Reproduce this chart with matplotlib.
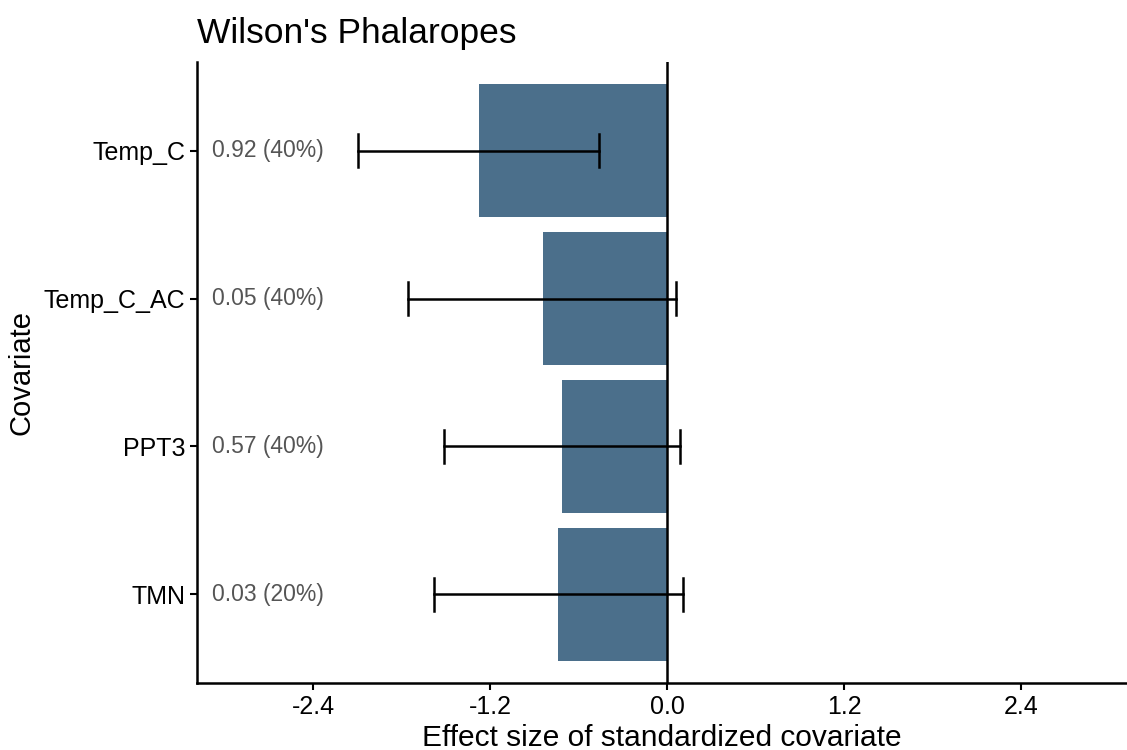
import matplotlib
matplotlib.use("Agg")
import matplotlib.pyplot as plt

plt.rcParams["font.family"] = ["Liberation Sans", "DejaVu Sans"]

# covariates, bottom to top
covariates = ["TMN", "PPT3", "Temp_C_AC", "Temp_C"]
effect = [-0.739, -0.714, -0.841, -1.275]
ci_low = [-1.580, -1.517, -1.757, -2.095]
ci_high = [0.108, 0.084, 0.063, -0.461]
labels = ["0.03 (20%)", "0.57 (40%)", "0.05 (40%)", "0.92 (40%)"]
xticks = [-2.4, -1.2, 0.0, 1.2, 2.4]

fig = plt.figure(figsize=(11.27, 7.5), dpi=100)
ax = fig.add_axes([197 / 1127, 67 / 750, 930 / 1127, 621 / 750])

ypos = list(range(1, len(covariates) + 1))
ax.barh(ypos, effect, height=0.9, color="#4B6F8B", zorder=1)
ax.axvline(0, color="black", lw=1.8, zorder=2)

# error bars with end caps
for y, lo, hi in zip(ypos, ci_low, ci_high):
    ax.plot([lo, hi], [y, y], color="black", lw=1.8, zorder=3)
    for x in (lo, hi):
        ax.plot([x, x], [y - 0.11, y + 0.11], color="black", lw=1.8, zorder=3)

for y, t in zip(ypos, labels):
    ax.text(-3.09, y, t, ha="left", va="center", fontsize=16.5, color="#555555")

ax.set_xlim(-3.19, 3.12)
ax.set_ylim(0.4, 4.6)
ax.set_xticks(xticks)
ax.set_xticklabels([f"{v:.1f}" for v in xticks])
ax.set_yticks(ypos)
ax.set_yticklabels(covariates)

for side in ("top", "right"):
    ax.spines[side].set_visible(False)
for side in ("left", "bottom"):
    ax.spines[side].set_linewidth(1.8)

ax.tick_params(axis="both", labelsize=18, length=5, width=1.5, colors="black")
ax.tick_params(axis="x", pad=4)
ax.set_xlabel("Effect size of standardized covariate", fontsize=21.5, labelpad=3)
ax.set_ylabel("Covariate", fontsize=21, labelpad=6)
ax.set_title("Wilson's Phalaropes", loc="left", fontsize=25.5, pad=14)

fig.savefig("out.png", dpi=100)
